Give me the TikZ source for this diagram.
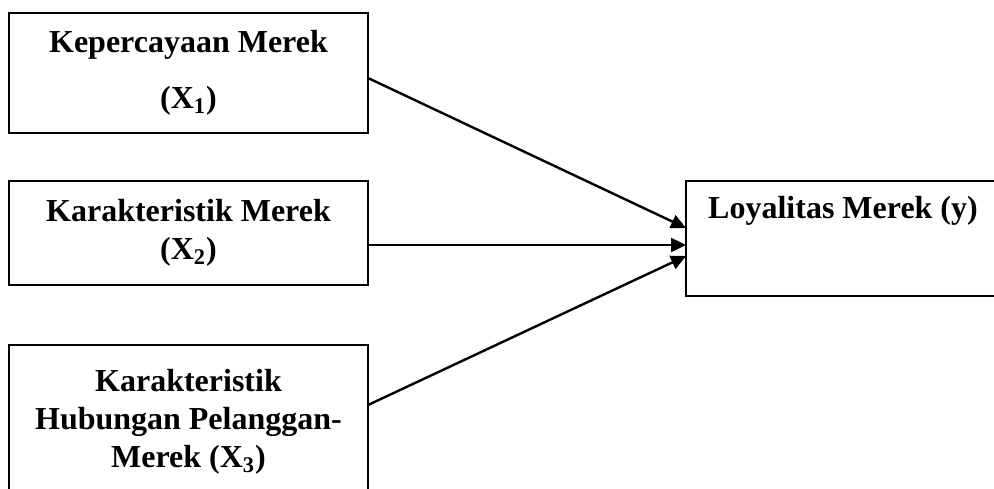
\documentclass[tikz,border=0pt]{standalone}
\usepackage{fontspec}
\setmainfont{Liberation Serif}
\usetikzlibrary{arrows.meta, positioning}

\begin{document}
\begin{tikzpicture}[
		node distance=24pt and 159pt,
		box/.style={rectangle, draw, line width=1.2pt, outer sep=0pt, minimum width=179.5pt, align=center, font=\fontsize{16}{19}\selectfont\bfseries},
		arrow/.style={-{Triangle[length=7.5pt, width=7pt]}, line width=1.2pt}
		]
		\useasboundingbox (0,0) rectangle (497pt,-244pt);
		\node[box, minimum height=60pt, anchor=north west] (kep) at (4.5pt,-6.5pt) {Kepercayaan Merek\\[9pt](X\textsubscript{1})};
		\node[box, minimum height=52pt, below=of kep] (kar) {Karakteristik Merek\\(X\textsubscript{2})};
		\node[box, minimum height=77pt, below=30pt of kar] (hub) {Karakteristik\\Hubungan Pelanggan-\\Merek (X\textsubscript{3})};
		\node[box, minimum width=157pt, minimum height=57.5pt, below right=0pt and 159pt of kar.north east] (loyal) {Loyalitas Merek (y)\\[6pt]\strut};

		\draw[arrow] ([yshift=-2.5pt]kep.east) -- ([yshift=5.25pt]loyal.west);
		\draw[arrow] ([yshift=-6pt]kar.east) -- ([yshift=-6pt]kar.east -| loyal.west);
		\draw[arrow] ([yshift=8.5pt]hub.east) -- ([yshift=-8.75pt]loyal.west);
	\end{tikzpicture}
\end{document}
